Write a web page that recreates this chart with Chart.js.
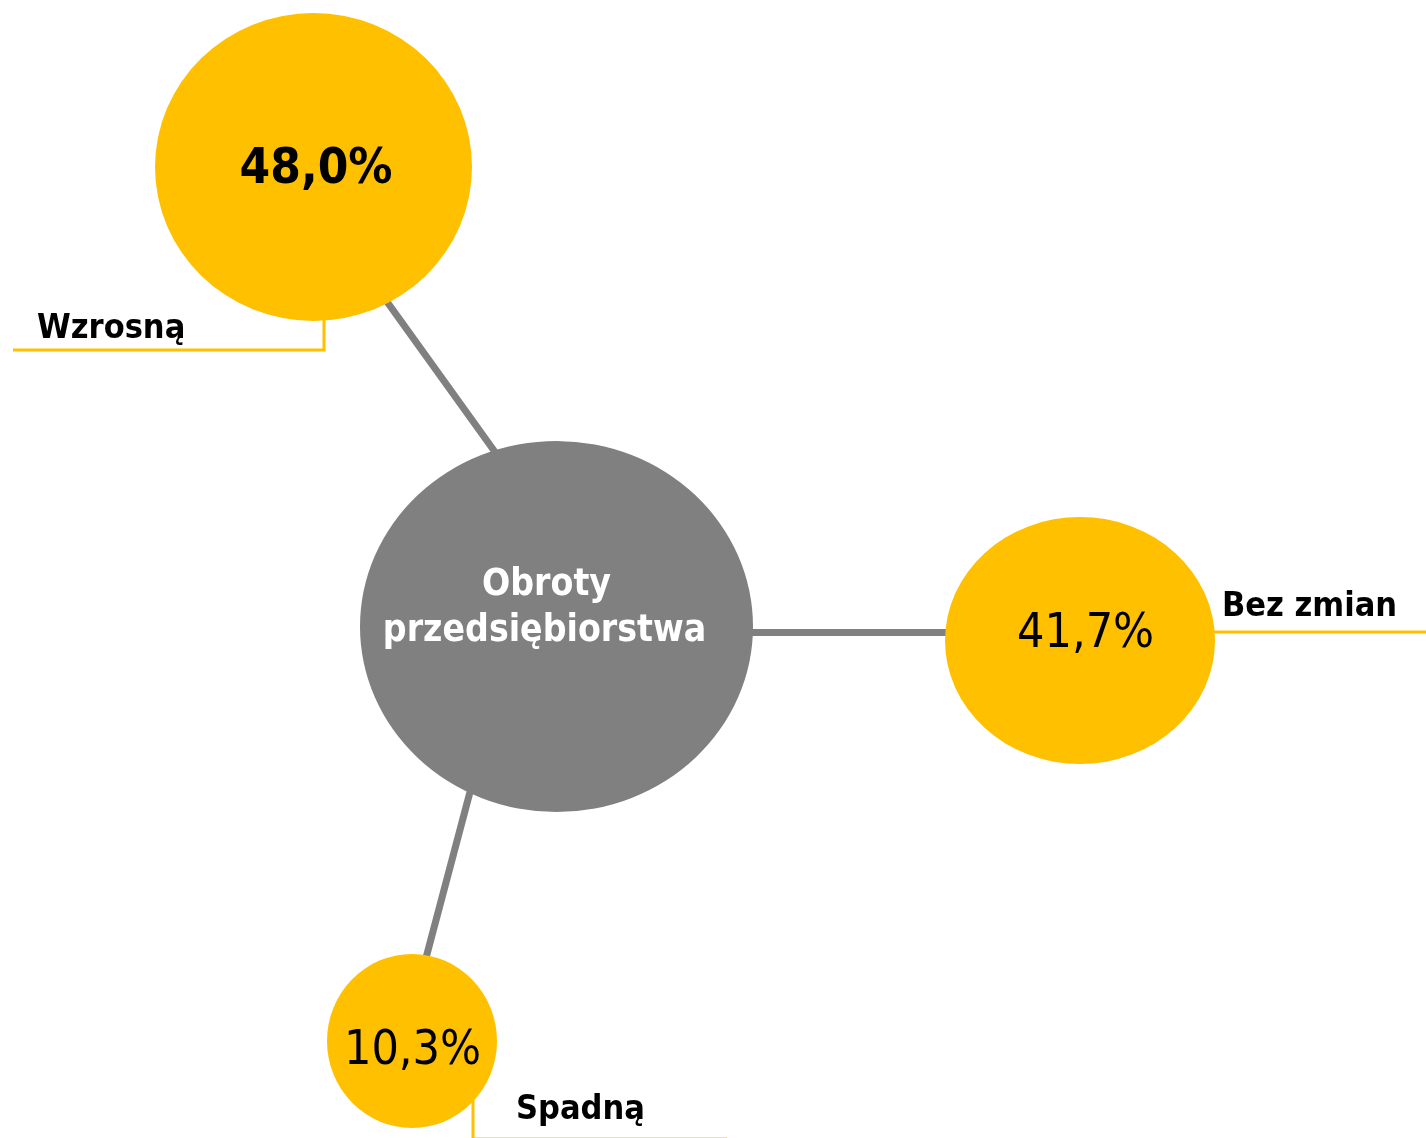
<!DOCTYPE html>
<html>
<head>
<meta charset="utf-8">
<script src="https://cdn.jsdelivr.net/npm/chart.js@4/dist/chart.umd.min.js"></script>
<style>
  html, body { margin: 0; padding: 0; background: #fff; }
  #wrap { width: 1426px; height: 1138px; }
</style>
</head>
<body>
<div id="wrap"><canvas id="myChart"></canvas></div>
<script>
// data
const centerLabel = ['Obroty', 'przedsiębiorstwa'];
const categories = ['Wzrosną', 'Bez zmian', 'Spadną'];
const shares = [48.0, 41.7, 10.3];

// layout (canvas units, y from top)
const centerNode = { x: 556.5, y: 626.5, rx: 196.5, ry: 185.5 };
const nodes = [
  { x: 313.5, y: 167, rx: 158.5, ry: 154, bold: true,
    link: [[386.5, 301], [495, 452]],
    valueAt: { x: 316, y: 183, align: 'center' },
    labelAt: { x: 37, y: 338 },
    leader: [[324, 320], [324, 350], [13, 350]] },
  { x: 1080, y: 640.5, rx: 135, ry: 123.5, bold: false,
    link: [[750, 632.5], [948, 632.5]],
    valueAt: { x: 1017, y: 647, align: 'left', clip: 1157 },
    labelAt: { x: 1222, y: 616 },
    leader: [[1214, 632], [1426, 632]] },
  { x: 412, y: 1041, rx: 85, ry: 87, bold: false,
    link: [[470, 792], [426.5, 956]],
    valueAt: { x: 412.5, y: 1064, align: 'center' },
    labelAt: { x: 516, y: 1119 },
    leader: [[473, 1098], [473, 1139], [727, 1139]] }
];

const GOLD = '#FFC000';
const GRAY = '#808080';
const FONT = '"DejaVu Sans Condensed", "DejaVu Sans", sans-serif';

function fmt(v) {
  return v.toFixed(1).replace('.', ',') + '%';
}

const bubblePlugin = {
  id: 'bubbleDiagram',
  beforeDatasetsDraw(chart) {
    const ctx = chart.ctx;
    const xs = chart.scales.x, ys = chart.scales.y;
    const px = v => xs.getPixelForValue(v);
    const py = v => ys.getPixelForValue(v);
    const meta = chart.getDatasetMeta(0);

    ctx.save();
    // connectors
    ctx.strokeStyle = GRAY;
    ctx.lineWidth = 7;
    nodes.forEach(n => {
      ctx.beginPath();
      ctx.moveTo(px(n.link[0][0]), py(n.link[0][1]));
      ctx.lineTo(px(n.link[1][0]), py(n.link[1][1]));
      ctx.stroke();
    });

    // leader lines
    ctx.strokeStyle = GOLD;
    ctx.lineWidth = 3;
    nodes.forEach(n => {
      ctx.beginPath();
      n.leader.forEach((p, i) => {
        if (i === 0) ctx.moveTo(px(p[0]), py(p[1]));
        else ctx.lineTo(px(p[0]), py(p[1]));
      });
      ctx.stroke();
    });

    // centre ellipse
    const c = chart.getDatasetMeta(1).data[0];
    ctx.fillStyle = GRAY;
    ctx.beginPath();
    ctx.ellipse(c.x, c.y, px(centerNode.x + centerNode.rx) - c.x, py(centerNode.y + centerNode.ry) - c.y, 0, 0, Math.PI * 2);
    ctx.fill();
    ctx.fillStyle = '#fff';
    ctx.font = 'bold 37px ' + FONT;
    ctx.textAlign = 'center';
    ctx.textBaseline = 'alphabetic';
    ctx.fillText(centerLabel[0], c.x - 10, c.y - 32);
    ctx.fillText(centerLabel[1], c.x - 12, c.y + 14);

    // category ellipses
    meta.data.forEach((pt, i) => {
      const n = nodes[i];
      ctx.fillStyle = GOLD;
      ctx.beginPath();
      ctx.ellipse(pt.x, pt.y, px(n.x + n.rx) - pt.x, py(n.y + n.ry) - pt.y, 0, 0, Math.PI * 2);
      ctx.fill();

      // value
      ctx.save();
      if (n.valueAt.clip) {
        ctx.beginPath();
        ctx.rect(0, 0, px(n.valueAt.clip), chart.height);
        ctx.clip();
      }
      ctx.fillStyle = '#000';
      ctx.font = (n.bold ? 'bold 49px ' : '48px ') + FONT;
      ctx.textAlign = n.valueAt.align;
      ctx.fillText(fmt(shares[i]), px(n.valueAt.x), py(n.valueAt.y));
      ctx.restore();

      // category label
      ctx.fillStyle = '#000';
      ctx.font = 'bold 34px ' + FONT;
      ctx.textAlign = 'left';
      ctx.fillText(categories[i], px(n.labelAt.x), py(n.labelAt.y));
    });
    ctx.restore();
  }
};

const config = {
  type: 'scatter',
  data: {
    datasets: [
      {
        label: 'Obroty przedsiębiorstwa',
        data: categories.map((c, i) => ({ x: nodes[i].x, y: nodes[i].y, v: shares[i] })),
        pointRadius: 0,
        pointHoverRadius: 0
      },
      {
        label: centerLabel.join(' '),
        data: [{ x: centerNode.x, y: centerNode.y }],
        pointRadius: 0,
        pointHoverRadius: 0
      }
    ]
  },
  options: {
    responsive: true,
    maintainAspectRatio: false,
    animation: false,
    layout: { padding: 0 },
    plugins: {
      legend: { display: false },
      tooltip: { enabled: false }
    },
    scales: {
      x: { type: 'linear', display: false, min: 0, max: 1426 },
      y: { type: 'linear', display: false, min: 0, max: 1138, reverse: true }
    }
  },
  plugins: [bubblePlugin]
};

var myChart = new Chart(document.getElementById('myChart'), config);
</script>
</body>
</html>
